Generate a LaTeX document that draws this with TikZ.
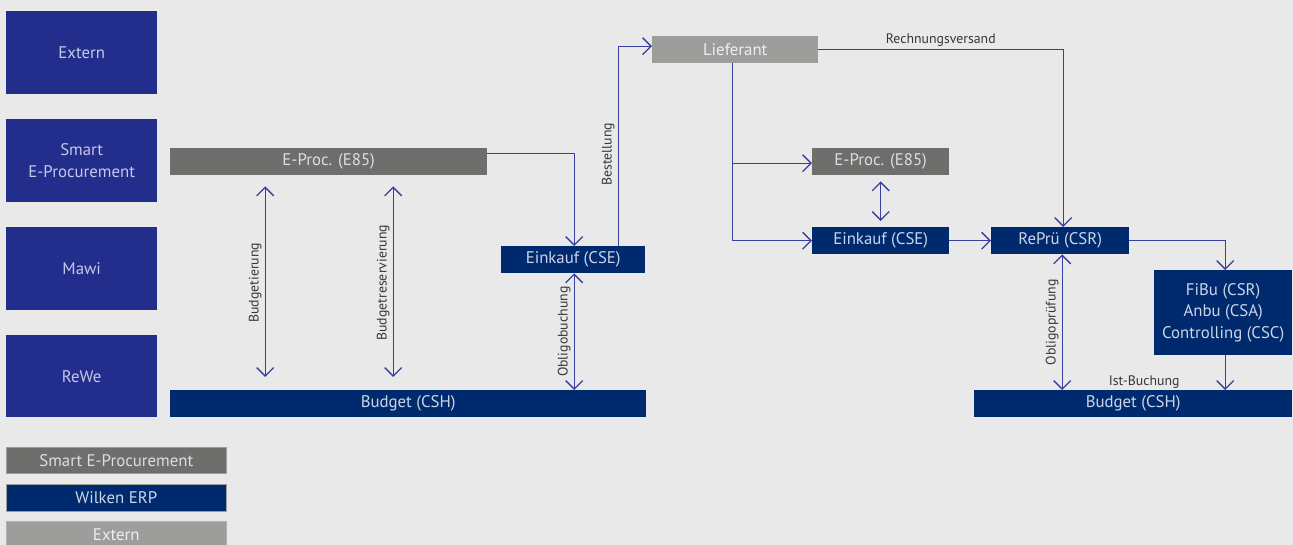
\documentclass[tikz,border=0pt]{standalone}
\usepackage{fontspec}
\setmainfont{PT Sans}
\usetikzlibrary{arrows.meta}
\definecolor{bgc}{RGB}{233,233,233}
\definecolor{lane}{RGB}{35,45,140}
\definecolor{lanetxt}{RGB}{198,200,232}
\definecolor{navy}{RGB}{0,42,110}
\definecolor{navytxt}{RGB}{205,212,232}
\definecolor{dgray}{RGB}{110,110,108}
\definecolor{dgraytxt}{RGB}{222,222,222}
\definecolor{lgray}{RGB}{157,158,156}
\definecolor{lgraytxt}{RGB}{238,238,238}
\definecolor{arrc}{RGB}{58,62,160}
\definecolor{lbltxt}{RGB}{55,55,55}
\tikzset{
  box/.style={inner sep=0pt, anchor=north west, minimum height=27pt, align=center,
    font=\fontsize{16.8}{21.5}\selectfont},
  lanebox/.style={box, fill=lane, text=lanetxt, minimum width=151pt, minimum height=83pt},
  navybox/.style={box, fill=navy, text=navytxt},
  dgraybox/.style={box, fill=dgray, text=dgraytxt},
  lgraybox/.style={box, fill=lgray, text=lgraytxt},
  tip/.style={Straight Barb[length=8.5pt,width=17pt,line width=1.3pt]},
  arr/.style={draw=arrc, line width=1.3pt, -{Straight Barb[length=8.5pt,width=17pt,line width=1.3pt]}},
  dbl/.style={draw=arrc, line width=1.3pt, {Straight Barb[length=8.5pt,width=17pt,line width=1.3pt]}-{Straight Barb[length=8.5pt,width=17pt,line width=1.3pt]}},
  lbl/.style={text=lbltxt, font=\fontsize{13.8}{16}\selectfont, inner sep=3pt},
  vlbl/.style={lbl, rotate=90, anchor=south}
}
\begin{document}
\begin{tikzpicture}[x=1pt,y=-1pt]
\useasboundingbox (0,0) rectangle (1293,545);
\fill[bgc] (0,0) rectangle (1293,545);
% lanes
\node[lanebox] (l1) at (6,11) {Extern};
\node[lanebox] (l2) at (6,119) {Smart\\E-Procurement};
\node[lanebox] (l3) at (6,227) {Mawi};
\node[lanebox, minimum height=82pt] (l4) at (6,335) {ReWe};
% left part
\node[dgraybox, minimum width=317pt] (ep1) at (170,148) {E-Proc. (E85)};
\node[navybox, minimum width=144pt] (ek1) at (501,246) {Einkauf (CSE)};
\node[navybox, minimum width=476pt] (bud1) at (170,390) {Budget (CSH)};
% right part
\node[lgraybox, minimum width=166pt] (lief) at (652,36) {Lieferant};
\node[dgraybox, minimum width=137pt] (ep2) at (812,148) {E-Proc. (E85)};
\node[navybox, minimum width=137pt] (ek2) at (812,227) {Einkauf (CSE)};
\node[navybox, minimum width=138pt] (re) at (991,227) {RePrü (CSR)};
\node[navybox, minimum width=138pt, minimum height=85pt] (fibu) at (1154,270) {FiBu (CSR)\\Anbu (CSA)\\Controlling (CSC)};
\node[navybox, minimum width=318pt] (bud2) at (974,390) {Budget (CSH)};
% legend
\node[dgraybox, minimum width=220pt, minimum height=26pt, draw=lgray, line width=0.6pt] (lg1) at (6,447) {Smart E-Procurement};
\node[navybox, minimum width=220pt, draw=lgray, line width=0.6pt] (lg2) at (6,484) {Wilken ERP};
\node[lgraybox, minimum width=220pt, draw=lgray!80, line width=0.6pt] (lg3) at (6,521) {Extern};
% connectors
\draw[arr] ([yshift=8.5pt]ep1.east) -| ([xshift=1pt]ek1.north);
\draw[arr] ([xshift=45pt]ek1.north) |- ([yshift=3.5pt]lief.west)
  node[vlbl, pos=0.23] {Bestellung};
\draw[arr] ([xshift=-3pt]lief.south) |- ([yshift=-1.5pt]ep2.west);
\draw[arr] ([xshift=-3pt]lief.south) |- (ek2.west);
\draw[arr] (lief.east) -| ([xshift=3pt]re.north)
  node[lbl, pos=0.25, above] {Rechnungsversand};
\draw[dbl, shorten <=6pt, shorten >=6pt] (ep2.south) -- (ek2.north);
\draw[arr] (ek2.east) -- (re.west);
\draw[arr] (re.east) -| ([xshift=2pt]fibu.north);
\draw[dbl] ([xshift=2pt]re.south) -- ([xshift=2pt]re.south |- bud2.north)
  node[vlbl, midway] {Obligoprüfung};
\draw[arr] ([xshift=2pt]fibu.south) -- ([xshift=2pt]fibu.south |- bud2.north)
  node[lbl, at end, anchor=south east, xshift=-44pt, inner sep=1pt] {Ist-Buchung};
\draw[dbl, shorten <=11pt, shorten >=13pt] ([xshift=-63.5pt]ep1.south) -- ([xshift=-63.5pt]ep1.south |- bud1.north)
  node[vlbl, midway] {Budgetierung};
\draw[dbl, shorten <=11pt, shorten >=13pt] ([xshift=64.5pt]ep1.south) -- ([xshift=64.5pt]ep1.south |- bud1.north)
  node[vlbl, midway] {Budgetreservierung};
\draw[dbl] ([xshift=1pt]ek1.south) -- ([xshift=1pt]ek1.south |- bud1.north)
  node[vlbl, midway] {Obligobuchung};
\end{tikzpicture}
\end{document}
